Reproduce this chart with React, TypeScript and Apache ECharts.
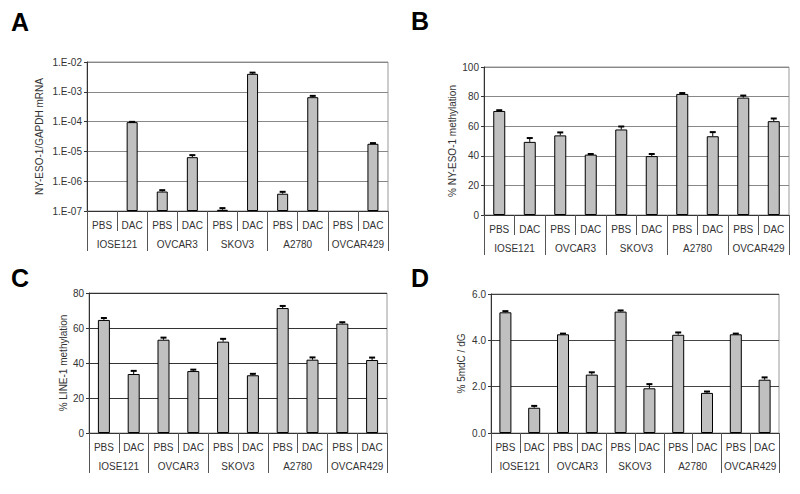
import React, { useEffect, useRef } from 'react';
import * as echarts from 'echarts';

const treatments = ['PBS', 'DAC', 'PBS', 'DAC', 'PBS', 'DAC', 'PBS', 'DAC', 'PBS', 'DAC'];
const cellLines = ['IOSE121', 'OVCAR3', 'SKOV3', 'A2780', 'OVCAR429'];

// Panel A: NY-ESO-1/GAPDH mRNA (log scale)
const mrnaTicks = ['1.E-07', '1.E-06', '1.E-05', '1.E-04', '1.E-03', '1.E-02'];
const mrnaValues: (number | null)[] = [null, 9.6e-5, 4.5e-7, 6.4e-6, 1.1e-7, 4.0e-3, 3.8e-7, 6.6e-4, null, 1.8e-5];
const mrnaErrors: (number | null)[] = [null, 2e-6, 0.5e-7, 1.1e-6, 0.15e-7, 0.4e-3, 0.6e-7, 0.7e-4, null, 0.1e-5];

// Panel B: % NY-ESO-1 methylation
const nyEsoValues = [70.3, 49.4, 53.8, 40.8, 57.8, 39.8, 81.8, 53.2, 79.3, 63.4];
const nyEsoErrors = [0.5, 2.6, 2.0, 0.4, 2.0, 1.4, 0.6, 2.8, 1.4, 1.8];

// Panel C: % LINE-1 methylation
const lineValues = [64.6, 33.7, 53.3, 35.4, 52.2, 33.0, 71.4, 41.9, 62.5, 41.7];
const lineErrors = [1.1, 1.8, 1.2, 0.8, 1.6, 0.8, 1.2, 1.3, 0.8, 1.4];

// Panel D: % 5mdC / dG
const mdcValues = [5.21, 1.09, 4.26, 2.52, 5.24, 1.93, 4.24, 1.73, 4.26, 2.30];
const mdcErrors = [0.05, 0.08, 0.03, 0.1, 0.05, 0.18, 0.1, 0.06, 0.03, 0.1];

const FONT = '"Liberation Sans", Arial, sans-serif';
const LOG_MIN = -7;

const toLog = (v: number) => Math.log10(v) - LOG_MIN;

function errorSeries(axisIdx: number, data: number[][]) {
  return {
    type: 'custom',
    xAxisIndex: axisIdx * 2,
    yAxisIndex: axisIdx,
    silent: true,
    z: 5,
    encode: { x: 0, y: [1, 2] },
    data,
    renderItem: (params: any, api: any) => {
      const x = api.value(0);
      const p0 = api.coord([x, api.value(1)]);
      const p1 = api.coord([x, api.value(2)]);
      const w = 3;
      return {
        type: 'group',
        children: [
          { type: 'line', shape: { x1: p0[0], y1: p0[1], x2: p1[0], y2: p1[1] }, style: { stroke: '#000', lineWidth: 1 } },
          { type: 'line', shape: { x1: p1[0] - w, y1: p1[1], x2: p1[0] + w, y2: p1[1] }, style: { stroke: '#000', lineWidth: 2 } },
        ],
      };
    },
  };
}

function barSeries(axisIdx: number, data: (number | null)[], width: number) {
  return {
    type: 'bar',
    xAxisIndex: axisIdx * 2,
    yAxisIndex: axisIdx,
    barWidth: width,
    data: data.map((v) => (v === null ? '-' : v)),
    itemStyle: { color: '#c0c0c0', borderColor: '#000', borderWidth: 1 },
    silent: true,
    z: 3,
  };
}

function xAxesFor(g: number) {
  return [
    {
      type: 'category',
      gridIndex: g,
      data: treatments,
      position: 'bottom',
      axisLine: { show: true, lineStyle: { color: '#333', width: 1 } },
      axisTick: { show: true, length: 20, interval: 0, lineStyle: { color: '#555' } },
      axisLabel: { interval: 0, margin: 9, fontSize: 10, color: '#333', fontFamily: FONT },
    },
    {
      type: 'category',
      gridIndex: g,
      data: cellLines,
      position: 'bottom',
      offset: 20,
      axisLine: { show: false },
      axisTick: { show: true, length: 20, interval: 0, lineStyle: { color: '#555' } },
      axisLabel: { interval: 0, margin: 8, fontSize: 10, color: '#333', fontFamily: FONT },
    },
  ];
}

function yAxisFor(g: number, opts: any) {
  return {
    type: 'value',
    gridIndex: g,
    nameLocation: 'middle',
    nameTextStyle: { fontSize: 10, color: '#333', fontFamily: FONT },
    axisLine: { show: true, lineStyle: { color: '#333' } },
    axisTick: { show: true, length: 3, lineStyle: { color: '#333' } },
    axisLabel: { fontSize: 10, color: '#333', fontFamily: FONT, margin: 5 },
    ...opts,
  };
}

export default function App() {
  const ref = useRef<HTMLDivElement>(null);
  useEffect(() => {
    if (!ref.current) return;
    const chart = echarts.init(ref.current, undefined, { renderer: 'svg' });

    const mrnaBars = mrnaValues.map((v) => (v === null ? null : toLog(v)));
    const mrnaErr: number[][] = [];
    mrnaValues.forEach((v, i) => {
      const e = mrnaErrors[i];
      if (v !== null && e !== null) mrnaErr.push([i, toLog(v), toLog(v + e)]);
    });
    const linErr = (vals: number[], errs: number[]) => vals.map((v, i) => [i, v, v + errs[i]]);

    const gridStyle = { show: true, borderColor: '#999', borderWidth: 1, backgroundColor: 'transparent' };
    const letter = (text: string, left: number, top: number) => ({
      type: 'text',
      left,
      top,
      style: { text, fontSize: 25, fontWeight: 'bold', fill: '#000', fontFamily: FONT },
    });

    chart.setOption({
      animation: false,
      textStyle: { fontFamily: FONT },
      grid: [
        { left: 87, top: 62, width: 301, height: 149, ...gridStyle },
        { left: 484, top: 67, width: 305, height: 148, ...gridStyle },
        { left: 89, top: 293, width: 298, height: 140, ...gridStyle },
        { left: 491, top: 294, width: 288, height: 139, ...gridStyle },
      ],
      xAxis: [...xAxesFor(0), ...xAxesFor(1), ...xAxesFor(2), ...xAxesFor(3)],
      yAxis: [
        yAxisFor(0, {
          min: 0,
          max: mrnaTicks.length - 1,
          interval: 1,
          name: 'NY-ESO-1/GAPDH mRNA',
          nameGap: 43,
          axisLabel: { fontSize: 10, color: '#333', fontFamily: FONT, margin: 5, formatter: (v: number) => mrnaTicks[Math.round(v)] },
          splitLine: { lineStyle: { color: '#888' } },
        }),
        yAxisFor(1, {
          min: 0,
          max: 100,
          interval: 20,
          name: '% NY-ESO-1 methylation',
          nameGap: 27,
          splitLine: { lineStyle: { color: '#888' } },
        }),
        yAxisFor(2, {
          min: 0,
          max: 80,
          interval: 20,
          name: '% LINE-1 methylation',
          nameGap: 21,
          splitLine: { lineStyle: { color: '#333' } },
        }),
        yAxisFor(3, {
          min: 0,
          max: 6,
          interval: 2,
          name: '% 5mdC / dG',
          nameGap: 25,
          axisLabel: { fontSize: 10, color: '#333', fontFamily: FONT, margin: 5, formatter: (v: number) => v.toFixed(1) },
          splitLine: { lineStyle: { color: '#444' } },
        }),
      ],
      series: [
        barSeries(0, mrnaBars, 11),
        errorSeries(0, mrnaErr),
        barSeries(1, nyEsoValues, 12),
        errorSeries(1, linErr(nyEsoValues, nyEsoErrors)),
        barSeries(2, lineValues, 12),
        errorSeries(2, linErr(lineValues, lineErrors)),
        barSeries(3, mdcValues, 12),
        errorSeries(3, linErr(mdcValues, mdcErrors)),
      ],
      graphic: [
        letter('A', 11, 9),
        letter('B', 411, 8),
        letter('C', 11, 265),
        letter('D', 411, 265),
      ],
    });
    return () => chart.dispose();
  }, []);
  return <div ref={ref} style={{ position: 'absolute', left: 0, top: 0, width: 800, height: 494 }} />;
}
